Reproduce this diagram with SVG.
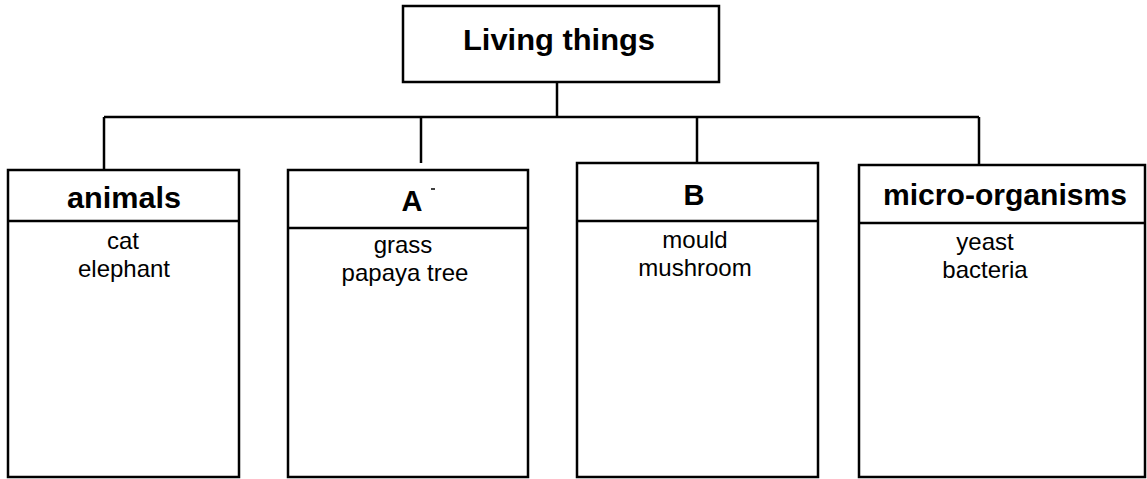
<svg xmlns="http://www.w3.org/2000/svg" width="1147" height="479" viewBox="0 0 1147 479">
<style>
.box{fill:#fff;stroke:#000;stroke-width:2.5}
.ln{stroke:#000;stroke-width:2.5;fill:none}
.h{font-family:"Liberation Sans",Arial,sans-serif;font-weight:bold;font-size:29px;text-anchor:middle;fill:#000}
.b{font-family:"Liberation Sans",Arial,sans-serif;font-size:24px;text-anchor:middle;fill:#000}
</style>
<rect width="1147" height="479" fill="#fff"/>
<g id="connectors">
<line class="ln" x1="557" y1="82" x2="557" y2="117"/>
<line class="ln" x1="104" y1="117" x2="979" y2="117"/>
<line class="ln" x1="104" y1="117" x2="104" y2="170"/>
<line class="ln" x1="421" y1="117" x2="421" y2="163"/>
<line class="ln" x1="697" y1="117" x2="697" y2="163"/>
<line class="ln" x1="979" y1="117" x2="979" y2="165"/>
</g>
<g id="root">
<rect class="box" x="403" y="6" width="316" height="76"/>
<text class="h" x="559" y="50" font-size="33" textLength="192" lengthAdjust="spacingAndGlyphs">Living things</text>
</g>
<g id="animals">
<rect class="box" x="8" y="170" width="231" height="307"/>
<line class="ln" x1="8" y1="221" x2="239" y2="221"/>
<text class="h" x="124" y="208" textLength="114" lengthAdjust="spacingAndGlyphs">animals</text>
<text class="b" x="123" y="249">cat</text>
<text class="b" x="124" y="277">elephant</text>
</g>
<g id="A">
<rect class="box" x="288" y="170" width="240" height="307"/>
<line class="ln" x1="288" y1="228" x2="528" y2="228"/>
<text class="h" x="412" y="211">A</text>
<line x1="431" y1="189" x2="435" y2="189" stroke="#000" stroke-width="1.5"/>
<text class="b" x="403" y="253">grass</text>
<text class="b" x="405" y="281">papaya tree</text>
</g>
<g id="B">
<rect class="box" x="577" y="163" width="241" height="314"/>
<line class="ln" x1="577" y1="221" x2="818" y2="221"/>
<text class="h" x="694" y="205">B</text>
<text class="b" x="695" y="248">mould</text>
<text class="b" x="695" y="276">mushroom</text>
</g>
<g id="micro">
<rect class="box" x="859" y="165" width="286" height="312"/>
<line class="ln" x1="859" y1="223" x2="1145" y2="223"/>
<text class="h" x="1005" y="205" textLength="244" lengthAdjust="spacingAndGlyphs">micro-organisms</text>
<text class="b" x="985" y="250">yeast</text>
<text class="b" x="985" y="278">bacteria</text>
</g>
</svg>
